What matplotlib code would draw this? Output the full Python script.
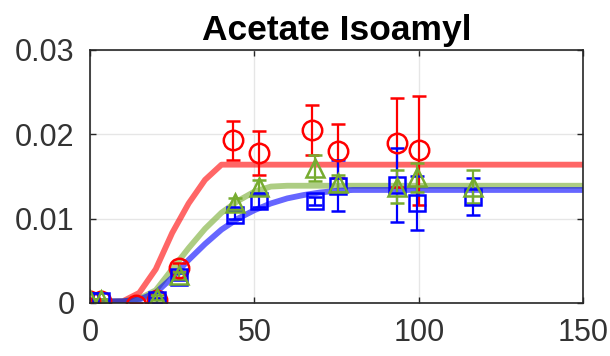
import numpy as np
import matplotlib.pyplot as plt

plt.rcParams['font.family'] = ['Liberation Sans', 'DejaVu Sans']

# measured data (time, concentration, std)
t_red = [0, 3.5, 14, 20.5, 27, 43.5, 51.5, 67.5, 75.5, 93.5, 100]
y_red = [0.0002, 0.0002, -0.0002, 0.0003, 0.0042, 0.0193, 0.0178, 0.0205, 0.0180, 0.0190, 0.0181]
e_red = [0.0002, 0.0002, 0.0002, 0.0003, 0.0005, 0.0023, 0.0026, 0.0030, 0.0032, 0.0053, 0.0065]

t_blue = [0, 3.5, 20.5, 27, 44, 51.5, 68.5, 75.5, 93.5, 99.5, 116.5]
y_blue = [0.0002, 0.0002, 0.0003, 0.0031, 0.0104, 0.0121, 0.0121, 0.0139, 0.0140, 0.0119, 0.0126]
e_blue = [0.0002, 0.0002, 0.0003, 0.0004, 0.0005, 0.0007, 0.0005, 0.0030, 0.0044, 0.0032, 0.0022]

t_green = [0, 3.5, 20.5, 27, 44, 51.5, 68.5, 75.5, 93.5, 99.5, 116.5]
y_green = [0.0003, 0.0003, 0.0006, 0.0033, 0.0118, 0.0138, 0.0160, 0.0142, 0.0138, 0.0149, 0.0138]
e_green = [0.0002, 0.0002, 0.0003, 0.0004, 0.0006, 0.0008, 0.0015, 0.0010, 0.0020, 0.0017, 0.0020]

# model curves
t_fit = [0, 5, 10, 15, 20, 25, 30, 35, 40, 45, 50, 55, 60, 65, 70, 75, 80, 150]
red_fit = [0.0001, 0.0001, 0.0002, 0.0012, 0.0040, 0.0083, 0.0118, 0.0146, 0.0164,
           0.0164, 0.0164, 0.0164, 0.0164, 0.0164, 0.0164, 0.0164, 0.0164, 0.0164]
blue_fit = [0.0002, 0.0002, 0.0002, 0.0004, 0.0012, 0.0030, 0.0051, 0.0070, 0.0087,
            0.0100, 0.0110, 0.0118, 0.0124, 0.0128, 0.0131, 0.0133, 0.0134, 0.0134]
green_fit = [0.0002, 0.0002, 0.0002, 0.0005, 0.0015, 0.0040, 0.0065, 0.0088, 0.0107,
             0.0121, 0.0132, 0.0138, 0.0139, 0.0139, 0.0139, 0.0139, 0.0139, 0.0139]

c_red = (1, 0, 0)
c_blue = (0, 0, 1)
c_green = (0.466, 0.674, 0.188)

fig = plt.figure(figsize=(6.1, 3.56), dpi=100)
ax = fig.add_axes([0.1475, 0.149, 0.8085, 0.7106])

ax.plot(t_fit, red_fit, color=c_red, lw=4.2, alpha=0.6)
ax.plot(t_fit, green_fit, color=c_green, lw=4.2, alpha=0.6)
ax.plot(t_fit, blue_fit, color=c_blue, lw=4.2, alpha=0.6)

kw = dict(ls='none', mfc='none', mew=1.8, elinewidth=1.6, capsize=5, capthick=1.6)
ax.errorbar(t_red, y_red, yerr=e_red, marker='o', ms=14, color=c_red, **kw)
ax.errorbar(t_blue, y_blue, yerr=e_blue, marker='s', ms=11, color=c_blue, **kw)
ax.errorbar(t_green, y_green, yerr=e_green, marker='^', ms=13, color=c_green, **kw)

ax.set_xlim(0, 150)
ax.set_ylim(0, 0.03)
ax.set_xticks([0, 50, 100, 150])
ax.set_yticks([0, 0.01, 0.02, 0.03])
ax.set_yticklabels(['0', '0.01', '0.02', '0.03'])
ax.grid(True, color='0.9', lw=1)
ax.set_axisbelow(True)
ax.tick_params(direction='in', top=True, right=True, length=4, width=1,
               labelsize=22, pad=11, colors='0.15', labelcolor='0.2')
for s in ax.spines.values():
    s.set_color('0.15')
    s.set_linewidth(1.2)

ax.set_title('Acetate Isoamyl', fontsize=25.5, fontweight='bold', pad=7)

fig.savefig('out.png', dpi=100)
